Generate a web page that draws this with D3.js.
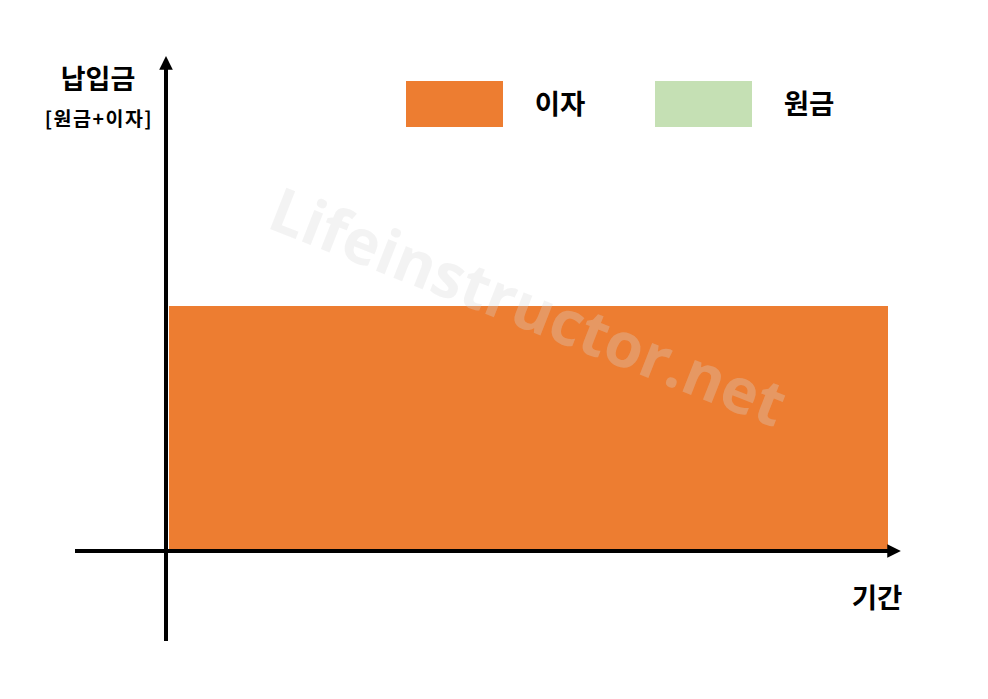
<!DOCTYPE html>
<html>
<head>
<meta charset="utf-8">
<script src="https://cdn.jsdelivr.net/npm/d3@7"></script>
<style>
  body { margin: 0; background: #fff; }
  text { font-family: "Noto Sans CJK KR", "Noto Sans", sans-serif; font-weight: bold; }
</style>
</head>
<body>
<div id="grafico"></div>
<script>
// dados do grafico (conceitual: so o periodo e o valor)
var periodos = [0, 1];
var serieNomes = ["이자", "원금"];
var serieCores = ["#ED7D31", "#C5E0B4"];
var valoresJuros = [1];
var valoresPrincipal = [0];
var rotuloY = "납입금";
var rotuloYSub = "[원금+이자]";
var rotuloX = "기간";
var marcaDagua = "Lifeinstructor.net";

var largura = 988, altura = 699;

var svg = d3.select("#grafico").append("svg")
    .attr("width", largura)
    .attr("height", altura);

var x = d3.scaleLinear().domain([0, 1]).range([169, 888]);
var y = d3.scaleLinear().domain([0, 2]).range([549, 63]);

// barras empilhadas: principal embaixo, juros em cima
var dados = periodos.slice(0, 1).map(function(p, i) {
    return { inicio: p, fim: periodos[i + 1], principal: valoresPrincipal[i], juros: valoresJuros[i] };
});

svg.selectAll("rect.principal").data(dados).enter().append("rect")
    .attr("class", "principal")
    .attr("x", function(d) { return x(d.inicio); })
    .attr("width", function(d) { return x(d.fim) - x(d.inicio); })
    .attr("y", function(d) { return y(d.principal); })
    .attr("height", function(d) { return y(0) - y(d.principal); })
    .attr("fill", serieCores[1]);

svg.selectAll("rect.juros").data(dados).enter().append("rect")
    .attr("class", "juros")
    .attr("x", function(d) { return x(d.inicio); })
    .attr("width", function(d) { return x(d.fim) - x(d.inicio); })
    .attr("y", function(d) { return y(d.principal + d.juros); })
    .attr("height", function(d) { return y(d.principal) - y(d.principal + d.juros); })
    .attr("fill", serieCores[0]);

// marca d'agua
svg.append("text").text(marcaDagua)
    .attr("transform", "translate(526,312) rotate(21.5)")
    .attr("text-anchor", "middle")
    .attr("dominant-baseline", "middle")
    .style("font-family", "'Open Sans', sans-serif")
    .style("font-size", "62px")
    .attr("fill", "#d8d8d8")
    .attr("fill-opacity", 0.3);

// eixos com setas
var defs = svg.append("defs");
defs.append("marker")
    .attr("id", "seta")
    .attr("viewBox", "0 0 10 10")
    .attr("refX", 2).attr("refY", 5)
    .attr("markerWidth", 3.4).attr("markerHeight", 3.4)
    .attr("orient", "auto")
  .append("path")
    .attr("d", "M0,0 L10,5 L0,10 Z")
    .attr("fill", "#000");

svg.append("line")
    .attr("x1", 75).attr("x2", 890)
    .attr("y1", y(0) + 2).attr("y2", y(0) + 2)
    .attr("stroke", "#000").attr("stroke-width", 4)
    .attr("marker-end", "url(#seta)");

svg.append("line")
    .attr("x1", x(0) - 3).attr("x2", x(0) - 3)
    .attr("y1", 641).attr("y2", 67)
    .attr("stroke", "#000").attr("stroke-width", 4)
    .attr("marker-end", "url(#seta)");

// rotulos dos eixos
svg.append("text").text(rotuloY)
    .attr("x", 98).attr("y", 89)
    .attr("text-anchor", "middle")
    .style("font-size", "27px")
    .attr("fill", "#000");

svg.append("text").text(rotuloYSub)
    .attr("x", 99).attr("y", 126)
    .attr("text-anchor", "middle")
    .style("font-size", "19.5px")
    .style("letter-spacing", "1.5px")
    .attr("fill", "#000");

svg.append("text").text(rotuloX)
    .attr("x", 877).attr("y", 608)
    .attr("text-anchor", "middle")
    .style("font-size", "27.5px")
    .attr("fill", "#000");

// legenda
var legX = [406, 655];
var legenda = svg.selectAll("g.legenda").data(serieNomes).enter().append("g")
    .attr("class", "legenda")
    .attr("transform", function(d, i) { return "translate(" + legX[i] + ",81)"; });

legenda.append("rect")
    .attr("width", 97).attr("height", 46)
    .attr("fill", function(d, i) { return serieCores[i]; });

legenda.append("text").text(function(d) { return d; })
    .attr("x", 154).attr("y", 33)
    .attr("text-anchor", "middle")
    .style("font-size", "27.5px")
    .attr("fill", "#000");
</script>
</body>
</html>
